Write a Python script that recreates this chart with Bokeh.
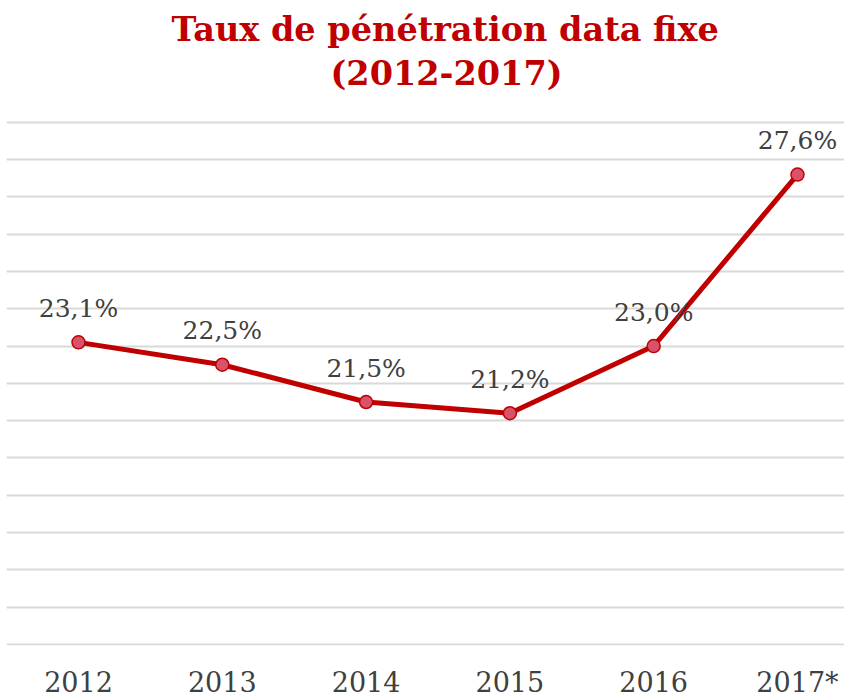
from bokeh.plotting import figure
from bokeh.models import ColumnDataSource, Range1d, FixedTicker, Title
from bokeh.core.properties import value
from bokeh.embed import file_html
from bokeh.resources import INLINE

years = ["2012", "2013", "2014", "2015", "2016", "2017*"]
values = [23.1, 22.5, 21.5, 21.2, 23.0, 27.6]
labels = [f"{v:.1f}%".replace(".", ",") for v in values]
grid_ticks = list(range(15, 30))

xs = list(range(len(years)))
src = ColumnDataSource(dict(x=xs, y=values, label=labels))

p = figure(width=844, height=700, output_backend="svg", toolbar_location=None,
           x_range=Range1d(-0.5007, 5.327), y_range=Range1d(14.97, 29.05),
           min_border_left=6, min_border_right=0, min_border_top=120, min_border_bottom=0)
p.outline_line_color = None
p.background_fill_color = "white"
p.border_fill_color = "white"

p.xgrid.visible = False
p.ygrid.ticker = FixedTicker(ticks=grid_ticks)
p.ygrid.grid_line_color = "#D9D9D9"
p.ygrid.grid_line_width = 2
p.yaxis.visible = False

p.xaxis.ticker = FixedTicker(ticks=xs)
p.xaxis.major_label_overrides = {i: y for i, y in enumerate(years)}
p.xaxis.axis_line_color = None
p.xaxis.major_tick_line_color = None
p.xaxis.minor_tick_line_color = None
p.xaxis.major_tick_out = 0
p.xaxis.major_tick_in = 0
p.xaxis.axis_label_standoff = 0
p.xaxis.major_label_text_font = "DejaVu Serif"
p.xaxis.major_label_text_font_size = "27px"
p.xaxis.major_label_text_color = "#404040"
p.xaxis.major_label_standoff = 21

p.line("x", "y", source=src, line_color="#C00000", line_width=5)
p.scatter("x", "y", source=src, size=13, fill_color="#D9526B",
          line_color="#C00000", line_width=1.5)

p.text("x", "y", text="label", source=src, y_offset=-34,
       text_align="center", text_baseline="middle",
       text_font=value("DejaVu Serif"), text_font_size="25px", text_color="#404040")

spacer = Title(text=" ", text_font_size="10px", standoff=15)
t2 = Title(text="(2012-2017)", align="left", text_font="DejaVu Serif",
           text_font_style="bold", text_font_size="33.5px", text_color="#C00000",
           standoff=0, offset=324)
t1 = Title(text="Taux de pénétration data fixe", align="left", text_font="DejaVu Serif",
           text_font_style="bold", text_font_size="33.5px", text_color="#C00000",
           standoff=6, offset=165)
p.add_layout(spacer, "above")
p.add_layout(t2, "above")
p.add_layout(t1, "above")

open("out.html", "w").write(file_html(p, INLINE))
